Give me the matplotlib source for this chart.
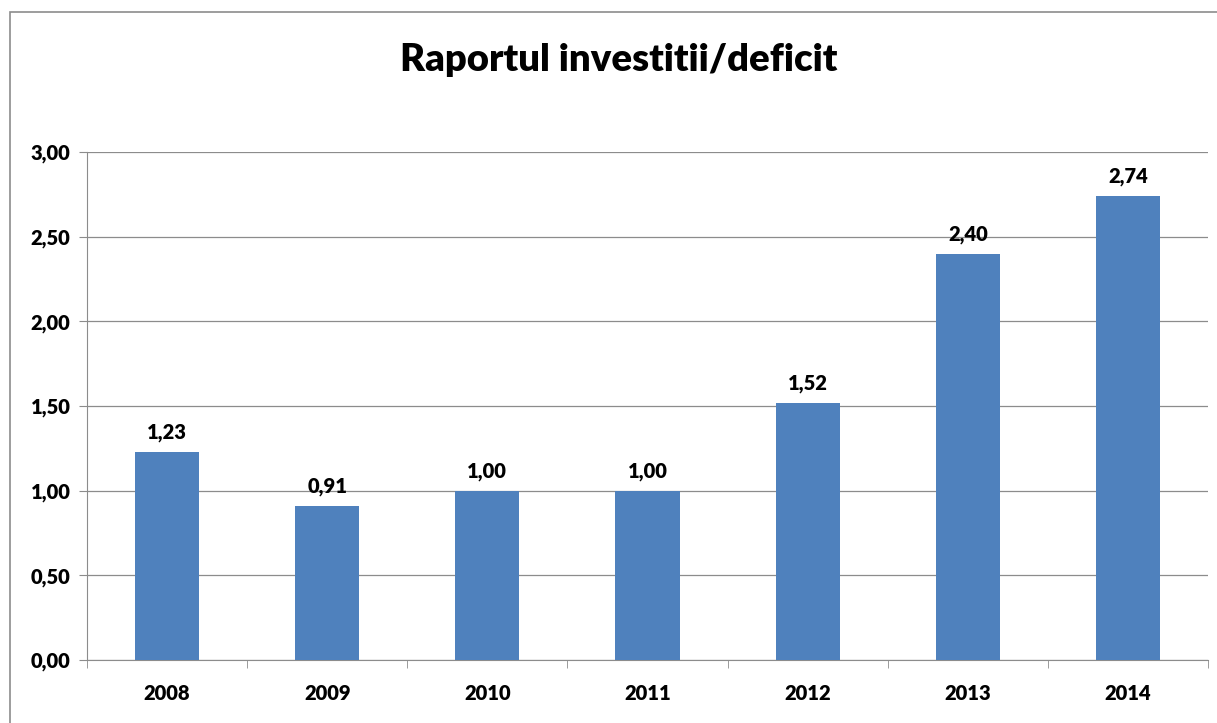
import matplotlib
matplotlib.use("Agg")
import matplotlib.pyplot as plt
from matplotlib.patches import Rectangle

plt.rcParams['font.family'] = ['Lato', 'DejaVu Sans']
plt.rcParams['font.weight'] = 'heavy'

years = ['2008', '2009', '2010', '2011', '2012', '2013', '2014']
ratios = [1.23, 0.91, 1.00, 1.00, 1.52, 2.40, 2.74]
yticks = [0.0, 0.5, 1.0, 1.5, 2.0, 2.5, 3.0]

fig = plt.figure(figsize=(12.17, 7.23), dpi=100)
ax = fig.add_axes([87 / 1217, 63 / 723, 1121 / 1217, 508 / 723])

# cadru exterior (taiat la dreapta si jos)
fig.patches.append(Rectangle((10 / 1217, -0.05), 1.2, (723 - 12) / 723 + 0.05,
                             transform=fig.transFigure, fill=False,
                             edgecolor='#8c8c8c', linewidth=1.2))

x = range(len(years))
bars = ax.bar(x, ratios, width=0.4, color='#4f81bd', zorder=3)

for xi, v in zip(x, ratios):
    ax.annotate(f'{v:.2f}'.replace('.', ','), (xi, v), xytext=(0, 7),
                textcoords='offset points', ha='center', va='bottom',
                fontsize=14.5, fontweight='heavy')

ax.set_xlim(-0.5, len(years) - 0.5)
ax.set_ylim(0, 3)
ax.set_yticks(yticks)
ax.set_yticklabels([f'{t:.2f}'.replace('.', ',') for t in yticks],
                   fontsize=14.5, fontweight='heavy')
ax.set_xticks(list(x))
ax.set_xticklabels(years, fontsize=14.5, fontweight='heavy')
ax.set_xticks([i - 0.5 for i in range(len(years) + 1)], minor=True)
ax.tick_params(axis='x', which='major', length=0, pad=17)
ax.tick_params(axis='x', which='minor', length=6, color='#8c8c8c', direction='out')
ax.tick_params(axis='y', length=6, color='#8c8c8c', direction='out', pad=6)

ax.grid(axis='y', color='#8c8c8c', linewidth=0.9, zorder=0)
for side in ['top', 'right']:
    ax.spines[side].set_visible(False)
for side in ['left', 'bottom']:
    ax.spines[side].set_color('#8c8c8c')

fig.text(619 / 1217, 1 - 60 / 723, 'Raportul investitii/deficit', ha='center', va='center',
         fontsize=27.5, fontweight='heavy')

fig.savefig('out.png', dpi=100)
